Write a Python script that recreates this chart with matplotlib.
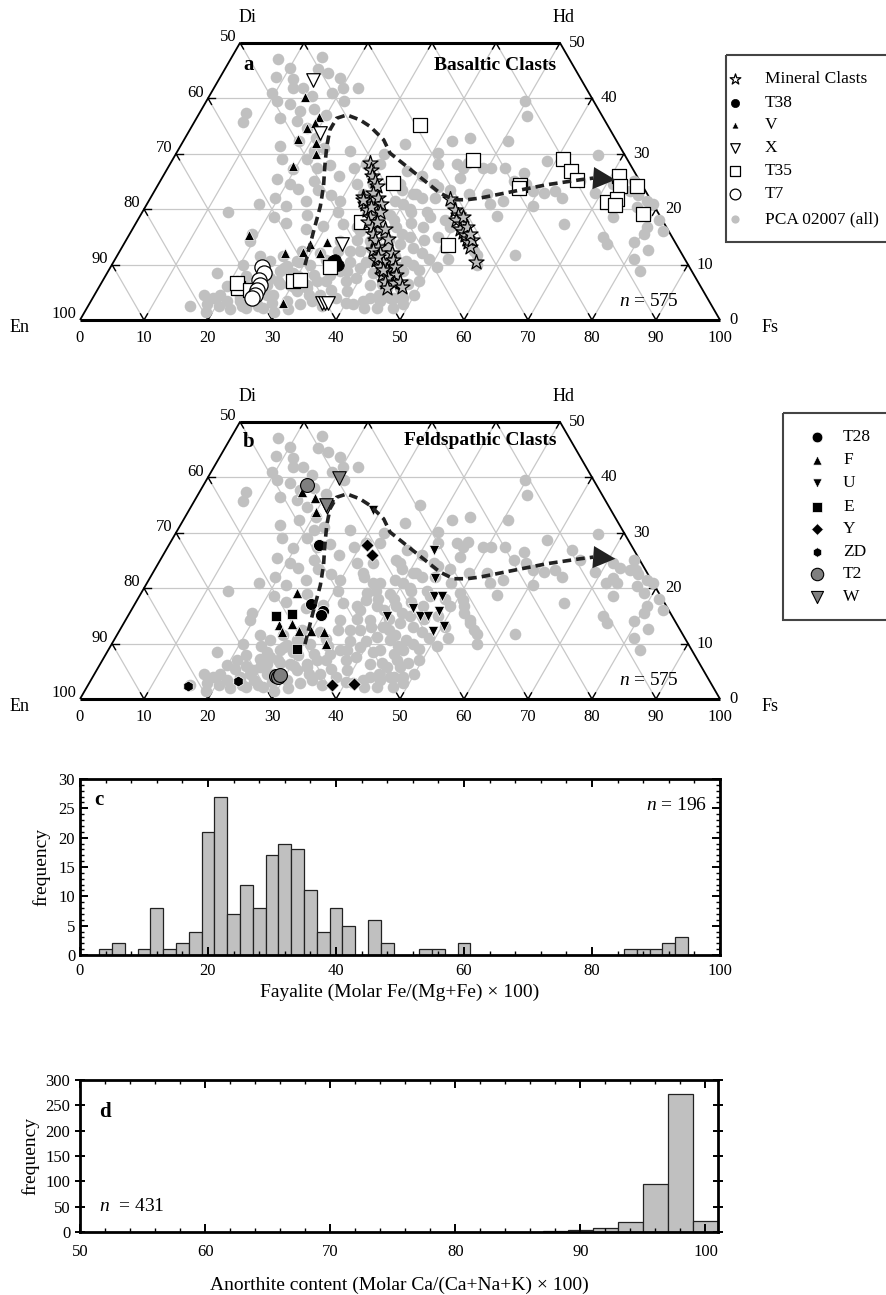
import numpy as np
import matplotlib
matplotlib.use("Agg")
import matplotlib.pyplot as plt
from matplotlib.patches import Rectangle
from matplotlib.ticker import MultipleLocator

plt.rcParams['font.family'] = ['Liberation Serif', 'DejaVu Serif']
plt.rcParams['mathtext.fontset'] = 'custom'
plt.rcParams['mathtext.rm'] = 'Liberation Serif'
plt.rcParams['mathtext.it'] = 'Liberation Serif:italic'

W, H = 886, 1295
SQ = np.sqrt(3) / 2

# ---- pyroxene data, (Fs, Wo) in mol% ----
pca_all = [
    (7.5, 47.0), (8.8, 43.8), (11.6, 43.4), (14.6, 45.2), (12.4, 41.9), (13.9, 41.9), (18.8, 43.7),
    (20.2, 41.9), (22.5, 41.9), (18.8, 41.0), (7.3, 37.4), (7.5, 35.8), (13.4, 38.9), (15.5, 37.7),
    (15.9, 35.9), (18.1, 34.7), (20.5, 32.9), (22.5, 31.1), (15.6, 31.4), (18.0, 32.3), (21.3, 30.5),
    (19.7, 27.2), (23.3, 27.5), (22.3, 23.6), (24.0, 25.1), (27.0, 30.5), (29.0, 27.5), (30.7, 28.1),
    (32.8, 28.1), (33.6, 24.5), (33.3, 22.1), (36.4, 20.9), (35.3, 19.1), (32.5, 17.3), (35.7, 16.1),
    (13.5, 19.4), (19.1, 15.5), (19.4, 14.3), (22.4, 11.5), (24.4, 10.6), (17.1, 8.5), (19.9, 6.1),
    (17.0, 4.6), (18.8, 4.0), (21.2, 3.4), (23.0, 4.0), (24.5, 5.2), (24.5, 7.3), (26.0, 6.4),
    (26.9, 8.8), (29.6, 6.4), (33.0, 2.8), (32.2, 6.4), (32.4, 8.2), (35.2, 4.6), (35.0, 7.0),
    (36.2, 8.8), (39.1, 5.2), (36.0, 12.4), (39.0, 9.4), (42.1, 6.4), (45.2, 3.4),
    (16.0, 2.5), (18.4, 2.8), (19.6, 4.6), (21.5, 5.5), (22.5, 2.0), (24.0, 2.5), (25.5, 3.5),
    (27.0, 4.5), (28.0, 6.5), (22.0, 8.0), (23.5, 9.5), (25.0, 8.5), (27.5, 9.8), (29.0, 10.5),
    (20.5, 10.0), (26.0, 11.5), (28.5, 12.5),
    (20.5, 24.5), (22.0, 20.5), (24.5, 21.5), (26.0, 19.0), (23.5, 17.5), (27.0, 16.5), (21.0, 29.0),
    (25.0, 28.0), (17.0, 29.0),
    (32.9, 22.7), (35.4, 20.9), (35.8, 17.9), (38.0, 16.7), (38.2, 14.3), (40.9, 13.0), (40.8, 11.2),
    (43.1, 10.6), (42.5, 8.8), (44.9, 8.2), (45.0, 5.8), (47.1, 5.8), (43.3, 4.0), (45.3, 2.2),
    (47.8, 2.2), (41.1, 16.7), (43.2, 13.7), (45.7, 10.6), (46.1, 8.8), (34.9, 16.7), (37.5, 12.4),
    (39.4, 7.6), (29.9, 21.5), (33.5, 14.3), (33.0, 10.9), (35.0, 8.2), (33.5, 7.0), (32.5, 5.8),
    (31.3, 5.2), (30.6, 3.4), (27.9, 4.6), (25.2, 5.8), (24.3, 4.6), (23.3, 3.4), (24.9, 2.2),
    (27.5, 2.2), (25.9, 7.6), (27.1, 9.4), (28.6, 10.6), (37.3, 8.8), (41.3, 2.8), (43.2, 2.2),
    (45.4, 18.5), (45.3, 16.7), (49.5, 16.7), (50.9, 17.9), (52.2, 15.5), (54.1, 13.7), (56.1, 11.8),
    (57.0, 10.0), (36.9, 25.1), (37.6, 26.9), (41.2, 22.7), (49.5, 22.7), (46.1, 27.5), (49.2, 27.5),
    (36.5, 19.5), (39.0, 19.0), (40.0, 21.0), (38.5, 23.5), (42.0, 19.5), (44.0, 15.0), (42.0, 12.5),
    (39.5, 10.5), (41.5, 8.5), (44.0, 6.5), (38.0, 4.0), (40.0, 3.0), (36.5, 2.5), (47.5, 12.0),
    (48.5, 9.0), (46.5, 14.5), (48.0, 18.0), (47.5, 21.0), (44.5, 22.0), (43.0, 24.5), (40.5, 26.0),
    (50.5, 13.0), (52.0, 11.0), (49.5, 7.0), (46.5, 4.0), (30.0, 8.0), (31.5, 12.0), (34.0, 12.5),
    (36.0, 14.5),
    (49.8, 39.5), (51.4, 36.8), (35.6, 35.0), (35.0, 31.7), (40.9, 30.2), (41.9, 32.3), (44.5, 32.9),
    (50.8, 32.3), (44.8, 28.1), (46.5, 28.4), (46.6, 25.7), (50.4, 27.5), (52.7, 27.5), (56.0, 26.6),
    (58.6, 28.7), (55.2, 25.1), (66.1, 29.8), (63.4, 26.9), (65.6, 25.1), (59.2, 23.3), (61.0, 23.0),
    (62.5, 23.3), (64.2, 22.1), (55.4, 21.5), (52.2, 22.7), (53.5, 21.0), (72.6, 23.6), (72.4, 21.8),
    (73.4, 20.9), (74.3, 23.3), (75.3, 23.3), (71.8, 20.9), (74.1, 18.5), (77.8, 21.5), (76.9, 20.3),
    (78.5, 19.1), (80.2, 16.7), (80.3, 15.5), (83.0, 16.1), (82.4, 12.7), (74.3, 14.9), (75.5, 13.7),
    (83.1, 8.8), (66.9, 17.3), (55.7, 18.8), (62.0, 11.8), (49.8, 19.1), (51.6, 16.7),
    (53.8, 14.3), (55.3, 12.4), (32.5, 29.9), (37.8, 24.5), (41.9, 28.1), (40.7, 22.7), (47.0, 4.0),
    (49.1, 2.8), (74.0, 25.0), (76.0, 22.5), (79.0, 21.0), (81.5, 18.0), (79.5, 14.0), (81.0, 11.0),
    (71.0, 24.5), (69.0, 23.0), (57.5, 24.5), (60.5, 20.5),
    (38.5, 21.5), (40.0, 18.0), (41.5, 20.0), (43.0, 17.5), (44.5, 19.5), (45.5, 13.0), (43.5, 11.5),
    (45.0, 9.5), (47.0, 10.0), (46.0, 7.0), (48.0, 6.5), (44.5, 4.5), (42.5, 3.5), (48.5, 4.0),
    (50.0, 4.5), (39.0, 13.0), (37.0, 10.5), (38.0, 7.0), (36.5, 5.5), (34.5, 3.5), (41.0, 14.5),
    (42.5, 15.5), (39.5, 16.0), (37.5, 18.0), (44.0, 24.0), (42.5, 22.0), (46.0, 23.5), (48.5, 15.0),
    (49.0, 11.0), (51.0, 9.5),
    (19.0, 1.5), (20.5, 2.5), (21.0, 7.0), (23.0, 6.0), (26.5, 2.5), (28.5, 3.0), (29.0, 8.5),
    (30.5, 6.0), (31.0, 10.0), (29.5, 1.5), (31.5, 2.0), (33.5, 4.5), (34.0, 9.5), (27.5, 7.0),
    (10.0, 45.5), (9.5, 41.0), (16.5, 44.5), (16.0, 40.5), (11.0, 39.5), (17.5, 38.0), (20.0, 37.0),
    (21.5, 39.5), (14.0, 47.5), (13.0, 36.5),
    (18.0, 25.5), (19.5, 22.0), (21.0, 18.5), (17.5, 21.0), (25.5, 23.5), (28.0, 22.5), (30.5, 19.5),
    (31.0, 24.5), (27.5, 26.0), (29.5, 17.0),
]

# panel a: basaltic clasts
mineral_clasts = [
    (31.1, 28.3), (31.9, 27.1), (32.6, 25.9), (33.6, 25.0), (34.3, 24.1), (33.1, 22.2), (34.0, 21.0),
    (34.4, 22.9), (35.6, 22.0), (36.6, 21.0), (34.9, 19.8), (36.0, 18.6), (37.1, 19.5), (36.2, 17.7),
    (37.2, 16.8), (37.5, 17.7), (38.0, 15.6), (39.4, 16.5), (40.8, 14.7), (38.9, 14.4), (40.0, 13.2),
    (39.5, 12.6), (40.9, 12.0), (42.7, 12.0), (40.9, 10.8), (42.1, 10.5), (43.5, 10.8), (42.1, 9.6),
    (43.4, 9.0), (44.4, 9.6), (43.1, 8.1), (44.3, 7.8), (45.4, 8.1), (44.2, 6.9), (45.7, 6.6),
    (46.5, 6.9), (45.1, 5.7), (47.3, 6.0), (42.9, 9.0), (40.9, 11.4), (35.3, 20.4), (33.4, 21.6),
    (46.9, 21.8), (48.7, 19.8), (49.6, 18.9), (49.8, 18.0), (50.9, 17.4), (51.1, 16.5), (51.9, 15.9),
    (52.5, 15.3), (53.1, 14.7), (53.6, 14.1), (54.3, 13.2), (54.0, 14.4), (50.6, 18.6), (52.0, 16.8),
    (53.1, 15.6), (56.7, 10.5),
]
t38 = [(34.2, 10.6), (34.4, 10.8), (35.4, 9.9), (34.8, 10.2)]
clast_v = [(15.0, 40.3), (19.0, 36.7), (18.1, 34.6), (19.0, 35.5), (17.8, 32.6), (20.9, 32.0),
           (22.0, 29.9), (19.5, 27.7), (18.7, 15.3), (26.1, 12.0), (28.8, 12.2), (29.0, 13.8),
           (31.5, 12.1), (31.6, 14.0), (30.2, 3.0)]
clast_x = [(14.8, 43.3), (20.6, 33.7), (34.0, 13.8), (36.3, 3.0), (36.8, 3.0), (37.2, 3.1)]
t35 = [(21.8, 5.7), (21.3, 6.6), (23.9, 5.4), (29.8, 7.0), (30.8, 7.2), (34.3, 9.6), (35.1, 17.7),
       (36.5, 24.7), (35.5, 35.2), (46.9, 28.9), (50.7, 13.5), (56.6, 24.4), (56.7, 23.8),
       (60.9, 29.0), (63.3, 26.9), (65.0, 25.3), (71.2, 25.9), (72.3, 24.1), (74.9, 24.2),
       (71.7, 21.2), (72.9, 21.9), (73.2, 20.7), (78.4, 19.2)]
t7 = [(23.6, 9.6), (24.5, 8.5), (24.3, 7.2), (25.0, 6.3), (24.9, 5.4), (25.0, 4.6), (24.8, 4.0)]

# panel b: feldspathic clasts
t28 = [(23.5, 27.8), (27.5, 17.1), (30.0, 15.8), (30.1, 15.2)]
clast_f = [(16.0, 37.4), (18.6, 36.2), (20.0, 33.8), (24.3, 19.1), (24.5, 13.3), (26.4, 13.6),
           (25.5, 12.1), (28.1, 12.3), (29.9, 12.3), (32.2, 12.0), (33.4, 10.0)]
clast_u = [(28.8, 34.1), (41.8, 26.9), (44.6, 21.8), (46.0, 18.5), (47.3, 18.5), (43.9, 16.4),
           (45.6, 15.0), (47.0, 14.9), (48.1, 15.9), (50.2, 13.2), (49.0, 12.3), (40.5, 14.9)]
clast_e = [(23.2, 14.9), (25.4, 15.3), (29.4, 9.0)]
clast_y = [(30.9, 27.8), (32.6, 26.0), (38.1, 2.5), (41.5, 2.7)]
clast_zd = [(15.8, 2.3), (23.0, 3.3)]
t2 = [(16.2, 38.6), (28.6, 4.2), (28.9, 4.0), (29.0, 4.4)]
clast_w = [(20.5, 39.8), (21.2, 34.7), (21.0, 35.0)]

# fractionation trend (dashed arrow)
trend = [(30.2, 9.9), (28.6, 15.6), (27.3, 20.5), (26.0, 24.1), (24.4, 27.7), (22.9, 31.3),
         (21.9, 34.3), (21.9, 36.4), (23.2, 37.0), (25.7, 36.1), (27.9, 34.9), (31.2, 32.5),
         (33.4, 30.1), (37.2, 27.7), (41.0, 25.3), (44.8, 22.9), (47.5, 21.7), (49.6, 21.7),
         (51.5, 22.0), (56.1, 23.2), (60.7, 24.4), (65.5, 25.3), (67.4, 25.6)]
trend_tip = (71.0, 25.3)

# ---- histograms ----
fay_bin = [4, 6, 10, 12, 14, 16, 18, 20, 22, 24, 26, 28, 30, 32, 34, 36, 38, 40, 42, 46, 48,
           54, 56, 60, 86, 88, 90, 92, 94]
fay_count = [1, 2, 1, 8, 1, 2, 4, 21, 27, 7, 12, 8, 17, 19, 18, 11, 4, 8, 5, 6, 2,
             1, 1, 2, 1, 1, 1, 2, 3]
an_bin = [87, 89, 91, 93, 95, 97, 99]
an_count = [2, 4, 7, 20, 94, 272, 22]


def px_axes(fig, left, top, right, bottom):
    return fig.add_axes([left / W, 1 - bottom / H, (right - left) / W, (bottom - top) / H])


def tern(pts):
    fs = np.array([p[0] for p in pts], float)
    wo = np.array([p[1] for p in pts], float)
    return fs + wo / 2, wo * SQ


def gline(ax, p0, p1):
    x, y = tern([p0, p1])
    ax.plot(x, y, color='#c8c8c8', lw=0.9, zorder=1)
    d = np.array([x[1] - x[0], y[1] - y[0]])
    d = d / np.hypot(*d) * 1.1
    ax.plot([x[0], x[0] + d[0]], [y[0], y[0] + d[1]], color='k', lw=1, zorder=2)
    ax.plot([x[1], x[1] - d[0]], [y[1], y[1] - d[1]], color='k', lw=1, zorder=2)


def quad_axes(fig, top, bottom, base):
    ax = px_axes(fig, 0, top, W, bottom)
    ax.set_xlim(-80 / 6.4, (W - 80) / 6.4)
    ax.set_ylim((base - bottom) / 6.4, (base - top) / 6.4)
    ax.axis('off')
    for w in range(10, 50, 10):
        gline(ax, (0, w), (100 - w, w))
    for v in range(10, 100, 10):
        wmax = min(50, 100 - v)
        gline(ax, (v, 0), (v, wmax))
        gline(ax, (100 - v, 0), (100 - v - wmax, wmax))
    for a, b, lw in [((0, 0), (100, 0), 2.2), ((0, 50), (50, 50), 2.2),
                     ((0, 0), (0, 50), 1.3), ((100, 0), (50, 50), 1.3)]:
        x, y = tern([a, b])
        ax.plot(x, y, color='k', lw=lw, zorder=3, solid_capstyle='butt')
    for v in range(0, 101, 10):
        ax.text(v, -2.8, str(v), ha='center', va='center', fontsize=12)
    for w in range(0, 51, 10):
        x, y = tern([(0, w)])
        ax.text(x[0] - 0.6, y[0] + 0.9, str(100 - w), ha='right', va='center', fontsize=12)
        x, y = tern([(100 - w, w)])
        ax.text(x[0] + 1.4, y[0], str(w), ha='left', va='center', fontsize=12)
    ax.text(26.1, 47.3, 'Di', ha='center', va='center', fontsize=13)
    ax.text(75.5, 47.3, 'Hd', ha='center', va='center', fontsize=13)
    ax.text(-9.4, -1.1, 'En', ha='center', va='center', fontsize=13)
    ax.text(107.8, -1.1, 'Fs', ha='center', va='center', fontsize=13)
    ax.text(93.5, 2.9, r'$n$ = 575', ha='right', va='center', fontsize=14)
    ax.scatter(*tern(pca_all), s=70, c='#c0c0c0', linewidths=0, zorder=4)
    x, y = tern(trend)
    ax.plot(x, y, color='#222222', lw=2.6, ls=(0, (2.4, 1.4)), zorder=9)
    tx, ty = tern([trend_tip])
    ax.annotate('', xy=(tx[0], ty[0]), xytext=(x[-1], y[-1]),
                arrowprops=dict(arrowstyle='-|>,head_length=1.0,head_width=0.5',
                                mutation_scale=16, color='#222222', lw=0, shrinkA=0, shrinkB=0),
                zorder=10)
    return ax


fig = plt.figure(figsize=(W / 100, H / 100), dpi=100)

# ---------- panel a ----------
styles_a = [
    ('Mineral Clasts', mineral_clasts, dict(marker='*', s=130, c='#bdbdbd', edgecolors='k', linewidths=0.9), 7),
    ('T38', t38, dict(marker='o', s=70, c='k', edgecolors='k', linewidths=0.5), 6),
    ('V', clast_v, dict(marker='^', s=50, c='k', edgecolors='white', linewidths=0.5), 6),
    ('X', clast_x, dict(marker='v', s=95, c='white', edgecolors='k', linewidths=0.9), 6),
    ('T35', t35, dict(marker='s', s=95, c='white', edgecolors='k', linewidths=0.9), 6),
    ('T7', t7, dict(marker='o', s=120, c='white', edgecolors='k', linewidths=0.9), 6),
]
axa = quad_axes(fig, 0, 345, 320)
for name, pts, kw, z in styles_a:
    axa.scatter(*tern(pts), zorder=z, **kw)
axa.text(26.3, 39.8, 'a', fontsize=15, fontweight='bold', va='center', ha='center')
axa.text(64.8, 39.8, 'Basaltic Clasts', fontsize=14, fontweight='bold', va='center', ha='center')

# ---------- panel b ----------
styles_b = [
    ('T28', t28, dict(marker='o', s=75, c='k', edgecolors='white', linewidths=0.6)),
    ('F', clast_f, dict(marker='^', s=55, c='k', edgecolors='white', linewidths=0.5)),
    ('U', clast_u, dict(marker='v', s=55, c='k', edgecolors='white', linewidths=0.5)),
    ('E', clast_e, dict(marker='s', s=55, c='k', edgecolors='white', linewidths=0.5)),
    ('Y', clast_y, dict(marker='D', s=45, c='k', edgecolors='white', linewidths=0.5)),
    ('ZD', clast_zd, dict(marker='h', s=60, c='k', edgecolors='white', linewidths=0.5)),
    ('T2', t2, dict(marker='o', s=100, c='#7f7f7f', edgecolors='k', linewidths=0.8)),
    ('W', clast_w, dict(marker='v', s=95, c='#7f7f7f', edgecolors='k', linewidths=0.8)),
]
axb = quad_axes(fig, 345, 725, 699)
for name, pts, kw in styles_b:
    axb.scatter(*tern(pts), zorder=6, **kw)
axb.text(26.3, 40.2, 'b', fontsize=15, fontweight='bold', va='center', ha='center')
axb.text(62.5, 40.4, 'Feldspathic Clasts', fontsize=14, fontweight='bold', va='center', ha='center')

# ---------- legends ----------
lg = fig.add_axes([0, 0, 1, 1], zorder=20)
lg.set_xlim(0, W)
lg.set_ylim(H, 0)
lg.axis('off')
lg.add_patch(Rectangle((726, 55), 200, 187, fill=False, ec='#444444', lw=1.5))
rows_a = [79, 103, 125, 148, 171, 194, 219]
legend_a = [(n, kw) for n, p, kw, z in styles_a] + \
    [('PCA 02007 (all)', dict(marker='o', s=70, c='#c0c0c0', linewidths=0))]
for (name, kw), yy in zip(legend_a, rows_a):
    k = dict(kw)
    k['s'] = k['s'] * 0.5
    if name == 'Mineral Clasts':
        k['c'] = 'white'
    lg.scatter([735], [yy], **k)
    lg.text(765, yy, name, va='center', ha='left', fontsize=12.5)

lg.add_patch(Rectangle((783, 413), 200, 207, fill=False, ec='#444444', lw=1.5))
rows_b = [437, 460, 483, 507, 529, 552, 574, 597]
for (name, pts, kw), yy in zip(styles_b, rows_b):
    k = dict(kw)
    k['s'] = k['s'] * 0.8
    lg.scatter([817], [yy], **k)
    lg.text(843, yy, name, va='center', ha='left', fontsize=12.5)


def style_hist(ax):
    for sp in ax.spines.values():
        sp.set_linewidth(2)
    ax.tick_params(which='both', direction='in', top=True, right=True, labelsize=12)
    ax.tick_params(which='major', length=6, width=1.4)
    ax.tick_params(which='minor', length=3, width=1)


# ---------- panel c ----------
axc = px_axes(fig, 80, 779, 720, 955)
axc.bar(fay_bin, fay_count, width=2, color='#c0c0c0', edgecolor='#222222', lw=0.9)
axc.set_xlim(0, 100)
axc.set_ylim(0, 30)
axc.xaxis.set_major_locator(MultipleLocator(20))
axc.xaxis.set_minor_locator(MultipleLocator(4))
axc.yaxis.set_major_locator(MultipleLocator(5))
axc.yaxis.set_minor_locator(MultipleLocator(1))
style_hist(axc)
axc.tick_params(axis='x', pad=6)
axc.set_ylabel('frequency', fontsize=14, labelpad=6)
axc.set_xlabel('Fayalite (Molar Fe/(Mg+Fe) \u00d7 100)', fontsize=14, labelpad=3)
axc.text(0.022, 0.88, 'c', transform=axc.transAxes, fontsize=15, fontweight='bold', va='center')
axc.text(0.98, 0.85, r'$n$ = 196', transform=axc.transAxes, fontsize=14, ha='right', va='center')

# ---------- panel d ----------
axd = px_axes(fig, 80, 1080, 718, 1232)
axd.bar(an_bin, an_count, width=2, align='edge', color='#c0c0c0', edgecolor='#222222', lw=0.9)
axd.set_xlim(50, 101)
axd.set_ylim(0, 300)
axd.xaxis.set_major_locator(MultipleLocator(10))
axd.xaxis.set_minor_locator(MultipleLocator(2))
axd.yaxis.set_major_locator(MultipleLocator(50))
style_hist(axd)
axd.tick_params(axis='y', which='major', direction='inout', length=7)
axd.tick_params(axis='x', pad=9)
axd.set_ylabel('frequency', fontsize=14, labelpad=4)
axd.set_xlabel('Anorthite content (Molar Ca/(Ca+Na+K) \u00d7 100)', fontsize=14, labelpad=12)
axd.text(0.03, 0.79, 'd', transform=axd.transAxes, fontsize=15, fontweight='bold', va='center')
axd.text(0.03, 0.17, r'$n$  = 431', transform=axd.transAxes, fontsize=14, ha='left', va='center')

fig.savefig('out.png', dpi=100)
